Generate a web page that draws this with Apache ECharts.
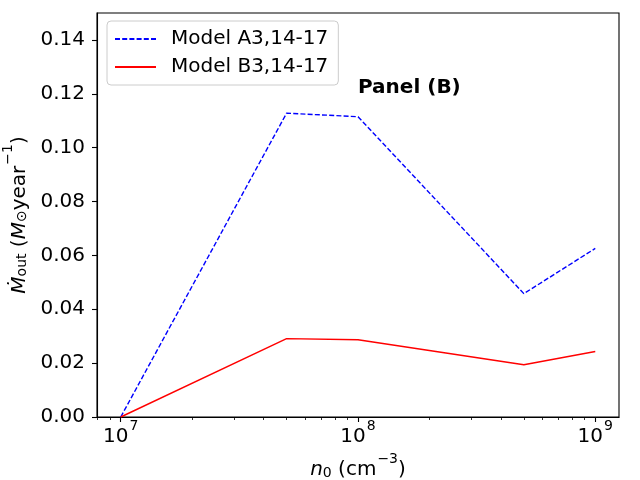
<!DOCTYPE html>
<html>
<head>
<meta charset="utf-8">
<script src="https://cdn.jsdelivr.net/npm/echarts@6/dist/echarts.min.js"></script>
<style>
  html, body { margin: 0; padding: 0; background: #fff; }
  #chart { width: 640px; height: 480px; }
</style>
</head>
<body>
<div id="chart"></div>
<script>
// density n0 (cm^-3) and outflow rates
const nValues = [1e7, 5e7, 1e8, 5e8, 1e9];
const modelA = [0.0, 0.1128, 0.1115, 0.0458, 0.0626];
const modelB = [0.0, 0.0291, 0.0287, 0.0194, 0.0243];
const seriesNames = ['Model A3,14-17', 'Model B3,14-17'];
const majorTicks = [1e7, 1e8, 1e9];
const minorTicks = [8e6, 9e6, 2e7, 3e7, 4e7, 5e7, 6e7, 7e7, 8e7, 9e7,
  2e8, 3e8, 4e8, 5e8, 6e8, 7e8, 8e8, 9e8];
const panelLabel = 'Panel (B)';
const panelAt = [1e8, 0.12];

const FONT = '"DejaVu Sans", sans-serif';
const xMin = Math.pow(10, 6.9), xMax = Math.pow(10, 9.1);

let myChart = echarts.init(document.getElementById('chart'), null, { renderer: 'canvas' });

const supRich = {
  b: { fontSize: 20, fontFamily: FONT, color: '#000', lineHeight: 28, verticalAlign: 'bottom' },
  i: { fontSize: 20, fontFamily: FONT, fontStyle: 'italic', color: '#000', lineHeight: 28, verticalAlign: 'bottom' },
  s: { fontSize: 14, fontFamily: FONT, color: '#000', lineHeight: 28, verticalAlign: 'top', padding: [0, 0, 0, 1] },
  d: { fontSize: 14, fontFamily: FONT, color: '#000', lineHeight: 20, verticalAlign: 'bottom' }
};

const gridBox = { left: 97, right: 21, top: 13, bottom: 63, outerBoundsMode: 'none', containLabel: false };

const logAxisBase = {
  type: 'log',
  logBase: 10,
  min: xMin,
  max: xMax,
  splitLine: { show: false },
  minorTick: { show: false }
};

let option = {
  backgroundColor: '#fff',
  animation: false,
  grid: [
    Object.assign({ show: true, borderColor: '#000', borderWidth: 1.1 }, gridBox),
    // twin grid that only carries the minor x ticks
    Object.assign({ show: false }, gridBox)
  ],
  legend: {
    orient: 'vertical',
    left: 107,
    top: 21,
    padding: [8, 10, 8, 7],
    itemWidth: 41,
    itemHeight: 14,
    itemGap: 8,
    borderColor: '#cccccc',
    borderWidth: 1,
    borderRadius: 4,
    backgroundColor: 'rgba(255,255,255,0.8)',
    itemStyle: { opacity: 0 },
    textStyle: { fontSize: 20, fontFamily: FONT, color: '#000', lineHeight: 20, padding: [0, 0, 0, 10] },
    data: seriesNames
  },
  xAxis: [
    Object.assign({}, logAxisBase, {
      gridIndex: 0,
      name: '{i|n}{d|0}{b| (cm}{s|−3}{b|)}',
      nameLocation: 'middle',
      nameGap: 31,
      nameTextStyle: { rich: supRich },
      axisLine: { lineStyle: { color: '#000', width: 1.1 } },
      axisTick: { show: true, length: 5, lineStyle: { color: '#000', width: 1.1 }, customValues: majorTicks },
      axisLabel: {
        customValues: majorTicks,
        margin: 2,
        formatter: v => '{b|10}{s|' + Math.round(Math.log10(v)) + '}',
        rich: supRich
      }
    }),
    Object.assign({}, logAxisBase, {
      gridIndex: 1,
      position: 'bottom',
      axisLine: { show: false },
      axisTick: { show: true, length: 3, lineStyle: { color: '#000', width: 0.8 }, customValues: minorTicks },
      axisLabel: { show: false }
    })
  ],
  yAxis: [
    {
      type: 'value',
      gridIndex: 0,
      min: 0,
      max: 0.15,
      interval: 0.02,
      name: '{i|Ṁ}{d|out}{b| (}{i|M}{d|⊙}{b|year}{s|−1}{b|)}',
      nameLocation: 'middle',
      nameRotate: 90,
      nameGap: 65,
      nameTextStyle: { rich: supRich },
      splitLine: { show: false },
      axisLine: { show: true, lineStyle: { color: '#000', width: 1.1 } },
      axisTick: { show: true, length: 5, lineStyle: { color: '#000', width: 1.1 } },
      axisLabel: {
        fontSize: 20, fontFamily: FONT, color: '#000', margin: 12,
        showMaxLabel: false,
        formatter: v => v.toFixed(2)
      }
    },
    {
      type: 'value',
      gridIndex: 1,
      min: 0,
      max: 0.15,
      show: false
    }
  ],
  series: [
    {
      name: seriesNames[0],
      type: 'line',
      xAxisIndex: 0,
      yAxisIndex: 0,
      symbol: 'none',
      color: '#0000ff',
      lineStyle: { color: '#0000ff', width: 1.4, type: [5, 2.2] },
      data: nValues.map((n, i) => [n, modelA[i]])
    },
    {
      name: seriesNames[1],
      type: 'line',
      xAxisIndex: 0,
      yAxisIndex: 0,
      symbol: 'none',
      color: '#ff0000',
      lineStyle: { color: '#ff0000', width: 1.4, type: 'solid' },
      data: nValues.map((n, i) => [n, modelB[i]])
    }
  ]
};

myChart.setOption(option);

// panel label anchored at a data coordinate
const p = myChart.convertToPixel({ xAxisIndex: 0, yAxisIndex: 0 }, panelAt);
myChart.setOption({
  graphic: [{
    type: 'text',
    x: p[0],
    y: p[1] - 6,
    style: {
      text: panelLabel,
      fontSize: 20, fontWeight: 'bold', fontFamily: FONT, fill: '#000',
      textAlign: 'left', textVerticalAlign: 'middle'
    }
  }]
});
</script>
</body>
</html>
